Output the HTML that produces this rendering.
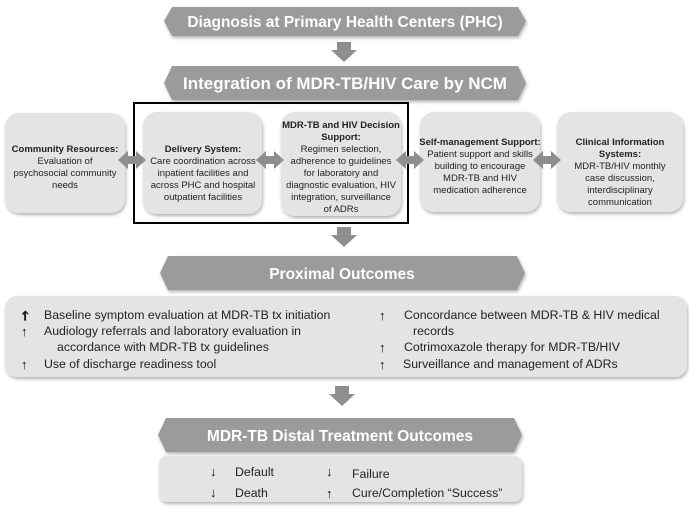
<!DOCTYPE html>
<html><head><meta charset="utf-8"><style>
html,body{margin:0;padding:0;background:#fff;}
svg{display:block;font-family:"Liberation Sans",sans-serif;}
</style></head><body>
<svg width="689" height="508" viewBox="0 0 689 508" xmlns="http://www.w3.org/2000/svg">
<defs>
<filter id="sh" x="-10%" y="-10%" width="120%" height="130%"><feDropShadow dx="1" dy="2" stdDeviation="1.5" flood-color="#000" flood-opacity="0.3"/></filter>
</defs>
<!-- banners -->
<g fill="#9b9b9b" filter="url(#sh)">
<polygon points="172,7 518,7 526,21 518,36 172,36 164,21"/>
<polygon points="172,66 518,66 526,83 518,100 172,100 164,83"/>
<polygon points="168,256 517,256 525,273 517,290 168,290 160,273"/>
<polygon points="166,418 514,418 522,435 514,452 166,452 158,435"/>
</g>
<g fill="#fff" font-weight="bold" text-anchor="middle">
<text x="345" y="27" font-size="15.5">Diagnosis at Primary Health Centers (PHC)</text>
<text x="345" y="89" font-size="17">Integration of MDR-TB/HIV Care by NCM</text>
<text x="342" y="279" font-size="15.5">Proximal Outcomes</text>
<text x="340" y="441" font-size="15.5">MDR-TB Distal Treatment Outcomes</text>
</g>
<!-- down arrows -->
<g fill="#8e8e8e">
<polygon points="337,42 351,42 351,50 357,50 344,62 331,50 337,50"/>
<polygon points="337,227 351,227 351,235 357,235 344,247 331,235 337,235"/>
<polygon points="335,386 349,386 349,394 355,394 342,406 329,394 335,394"/>
</g>
<!-- boxes -->
<g fill="#e4e4e4" filter="url(#sh)">
<rect x="5" y="113" width="120" height="100" rx="14"/>
<rect x="143" y="112" width="119" height="102" rx="14"/>
<rect x="281" y="112" width="120" height="104" rx="14"/>
<rect x="420" y="112" width="120" height="100" rx="14"/>
<rect x="557" y="112" width="126" height="100" rx="14"/>
<rect x="5" y="296" width="682" height="81" rx="12"/>
<rect x="159" y="456" width="363" height="46" rx="8"/>
</g>
<rect x="134" y="103" width="274" height="120" fill="none" stroke="#000" stroke-width="2"/>
<!-- double arrows -->
<g fill="#8e8e8e">
<polygon points="118,160 128,151 128,156 136,156 136,151 146,160 136,169 136,164 128,164 128,169"/>
<polygon points="256,160 266,151 266,156 274,156 274,151 284,160 274,169 274,164 266,164 266,169"/>
<polygon points="396,160 406,151 406,156 414,156 414,151 424,160 414,169 414,164 406,164 406,169"/>
<polygon points="533,160 543,151 543,156 551,156 551,151 561,160 551,169 551,164 543,164 543,169"/>
</g>
<g font-size="9.5" fill="#222" text-anchor="middle">
<text x="65" y="152"><tspan font-weight="bold">Community Resources:</tspan><tspan x="65" dy="12">Evaluation of</tspan><tspan x="65" dy="12">psychosocial community</tspan><tspan x="65" dy="12">needs</tspan></text>
<text x="203" y="152"><tspan font-weight="bold">Delivery System:</tspan><tspan x="203" dy="12">Care coordination across</tspan><tspan x="203" dy="12">inpatient facilities and</tspan><tspan x="203" dy="12">across PHC and hospital</tspan><tspan x="203" dy="12">outpatient facilities</tspan></text>
<text x="341" y="128"><tspan font-weight="bold">MDR-TB and HIV Decision</tspan><tspan x="341" dy="12" font-weight="bold">Support:</tspan><tspan x="341" dy="12">Regimen selection,</tspan><tspan x="341" dy="12">adherence to guidelines</tspan><tspan x="341" dy="12">for laboratory and</tspan><tspan x="341" dy="12">diagnostic evaluation, HIV</tspan><tspan x="341" dy="12">integration, surveillance</tspan><tspan x="341" dy="12">of ADRs</tspan></text>
<text x="480" y="145"><tspan font-weight="bold">Self-management Support:</tspan><tspan x="480" dy="12">Patient support and skills</tspan><tspan x="480" dy="12">building to encourage</tspan><tspan x="480" dy="12">MDR-TB and HIV</tspan><tspan x="480" dy="12">medication adherence</tspan></text>
<text x="620" y="145"><tspan font-weight="bold">Clinical Information</tspan><tspan x="620" dy="12" font-weight="bold">Systems:</tspan><tspan x="620" dy="12">MDR-TB/HIV monthly</tspan><tspan x="620" dy="12">case discussion,</tspan><tspan x="620" dy="12">interdisciplinary</tspan><tspan x="620" dy="12">communication</tspan></text>
</g>
<g font-size="12.3" fill="#222">
<text x="44" y="319">Baseline symptom evaluation at MDR-TB tx initiation</text>
<text x="44" y="335">Audiology referrals and laboratory evaluation in</text>
<text x="57" y="351">accordance with MDR-TB tx guidelines</text>
<text x="44" y="368">Use of discharge readiness tool</text>
<text x="404" y="319">Concordance between MDR-TB &amp; HIV medical</text>
<text x="413" y="335">records</text>
<text x="404" y="351">Cotrimoxazole therapy for MDR-TB/HIV</text>
<text x="403" y="368">Surveillance and management of ADRs</text>
<text x="235" y="476">Default</text>
<text x="235" y="497">Death</text>
<text x="352" y="478">Failure</text>
<text x="352" y="497">Cure/Completion “Success”</text>
</g>
<g font-size="13" font-weight="bold" fill="#111">
<text x="22" y="320">🡑</text>
</g>
<g fill="#111" font-size="13" font-weight="bold">
<text x="21" y="320">↑</text><text x="21" y="336">↑</text><text x="21" y="369">↑</text>
<text x="379" y="320">↑</text><text x="379" y="352">↑</text><text x="379" y="369">↑</text>
<text x="210" y="476">↓</text><text x="210" y="497">↓</text>
<text x="326" y="476">↓</text><text x="326" y="498">↑</text>
</g>
</svg>
</body></html>
